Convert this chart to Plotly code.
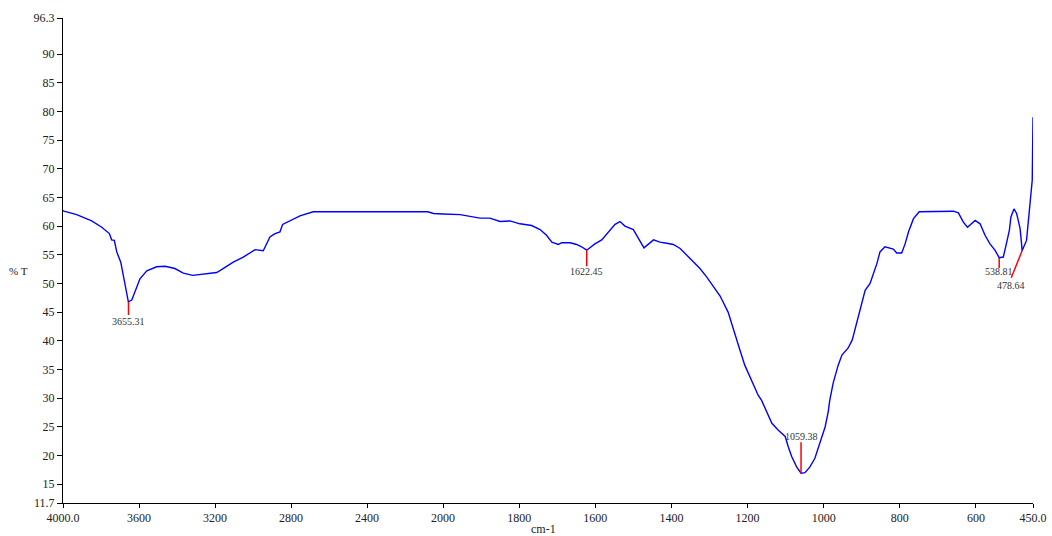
import plotly.graph_objects as go

# ---- data (wavenumber cm-1, %T) ----
wn_high = [4000, 3995, 3928, 3849, 3796, 3756, 3744, 3730, 3717, 3696, 3656, 3638,
           3595, 3559, 3507, 3463, 3411, 3367, 3317, 3262, 3191, 3147, 3104, 3051,
           2989, 2946, 2911, 2884, 2858, 2844, 2805, 2753, 2683, 2600, 2437, 2300,
           2150, 2080, 2050, 2000]
t_high = [62.7, 62.6, 62.0, 60.9, 59.8, 58.7, 57.6, 57.5, 55.5, 53.7, 46.8, 47.1,
          50.8, 52.2, 52.9, 53.0, 52.6, 51.8, 51.4, 51.6, 51.9, 52.8, 53.7, 54.6,
          55.9, 55.7, 58.1, 58.7, 59.0, 60.3, 61.0, 61.8, 62.5, 62.5, 62.5, 62.5,
          62.5, 62.5, 62.2, 62.1]

wn_low = [2000, 1955, 1903, 1877, 1850, 1824, 1798, 1767, 1745, 1728, 1714, 1697,
          1688, 1666, 1649, 1636, 1622.45, 1601, 1583, 1566, 1548, 1535, 1522, 1500,
          1487, 1472, 1447, 1430, 1412, 1395, 1377, 1351, 1325, 1307, 1285, 1272,
          1251, 1233, 1220, 1207, 1189, 1172, 1163, 1150, 1136, 1119, 1101, 1093,
          1084, 1071, 1059.38, 1049, 1036, 1023, 1011, 996, 988, 984, 975, 962,
          952, 936, 925, 910, 899, 891, 878, 869, 860, 852, 839, 817, 808, 795,
          786, 777, 764, 749, 700, 669, 659, 646, 633, 622, 602, 589, 576, 563,
          550, 538.81, 528, 519, 512, 508, 500, 493, 484, 480, 478.64, 467, 459,
          452, 450]
t_low = [62.1, 62.0, 61.4, 61.4, 60.8, 60.9, 60.4, 60.1, 59.4, 58.4, 57.2, 56.8,
         57.1, 57.1, 56.8, 56.4, 55.8, 56.9, 57.6, 59.0, 60.3, 60.8, 60.0, 59.4,
         57.8, 56.2, 57.6, 57.2, 57.0, 56.8, 56.1, 54.3, 52.6, 51.1, 49.1, 47.8,
         45.0, 41.0, 38.4, 35.7, 33.1, 30.5, 29.6, 27.6, 25.6, 24.4, 23.3, 21.5,
         19.8, 18.0, 16.9, 17.0, 18.0, 19.5, 21.8, 25.0, 27.6, 29.6, 32.6, 35.7,
         37.5, 38.7, 40.1, 43.9, 47.1, 48.8, 50.0, 51.7, 53.5, 55.5, 56.4, 56.0,
         55.3, 55.3, 56.9, 59.0, 61.3, 62.5, 62.5, 62.5, 62.6, 62.3, 60.7, 59.8,
         61.0, 60.4, 58.4, 56.9, 55.8, 54.5, 54.6, 57.2, 59.3, 61.6, 63.0, 62.2,
         59.6, 56.9, 55.7, 57.5, 63.3, 68.0, 79.0]

peak_wn = [3655.31, 1622.45, 1059.38, 538.81, 478.64]
peak_t = [46.8, 55.8, 16.9, 54.5, 55.7]
peak_labels = ["3655.31", "1622.45", "1059.38", "538.81", "478.64"]

x_ticks_high = [4000, 3600, 3200, 2800, 2400]
x_ticks_low = [2000, 1800, 1600, 1400, 1200, 1000, 800, 600, 450]
y_ticks = [11.7, 15, 20, 25, 30, 35, 40, 45, 50, 55, 60, 65, 70, 75, 80, 85, 90, 96.3]

# ---- figure ----
W, H = 1052, 536
L, R, T, B = 63, 19, 18, 33
split = 380 / (W - L - R)

FONT = "Liberation Serif"
line_style = dict(color="#0000ff", width=1.4)

fig = go.Figure()
fig.add_trace(go.Scatter(x=wn_high, y=t_high, mode="lines", line=line_style,
                         xaxis="x", yaxis="y", hoverinfo="skip", showlegend=False))
fig.add_trace(go.Scatter(x=wn_low, y=t_low, mode="lines", line=line_style,
                         xaxis="x2", yaxis="y", hoverinfo="skip", showlegend=False))

def fmt_tick(v, last):
    return f"{v:.1f}" if last else str(v)

axis_common = dict(showgrid=False, zeroline=False, showline=True, linecolor="black",
                   linewidth=1, ticks="outside", ticklen=4, tickcolor="black",
                   automargin=False,
                   tickfont=dict(family=FONT, size=12, color="#222"))

fig.update_layout(
    width=W, height=H,
    margin=dict(l=L, r=R, t=T, b=B, autoexpand=False),
    paper_bgcolor="white", plot_bgcolor="white",
    xaxis=dict(domain=[0, split], range=[4000, 2000], tickmode="array",
               tickvals=x_ticks_high,
               ticktext=[fmt_tick(v, v == 4000) for v in x_ticks_high],
               anchor="y", **axis_common),
    xaxis2=dict(domain=[split, 1], range=[2000, 450], tickmode="array",
                tickvals=x_ticks_low,
                ticktext=[fmt_tick(v, v == 450) for v in x_ticks_low],
                anchor="y", **axis_common),
    yaxis=dict(range=[11.7, 96.3], tickmode="array", tickvals=y_ticks,
               ticktext=[str(v) for v in y_ticks], showgrid=False, zeroline=False,
               showline=True, linecolor="black", linewidth=1, ticks="outside",
               ticklen=5, tickcolor="black", automargin=False,
               tickfont=dict(family=FONT, size=12, color="#222")),
)

# peak markers: (line end offset in %T, label offset in %T, optional label x shift in cm-1)
marker_style = {
    "3655.31": dict(end=-2.3, lab=-3.4, dx=0),
    "1622.45": dict(end=-2.8, lab=-3.8, dx=0),
    "1059.38": dict(end=5.4, lab=6.4, dx=0),
    "538.81": dict(end=-1.8, lab=-2.5, dx=0),
    "478.64": dict(end=-4.7, lab=-6.0, dx=30),
}
for w, t, lab in zip(peak_wn, peak_t, peak_labels):
    st = marker_style[lab]
    xr = "x" if w > 2000 else "x2"
    x_end = w + st["dx"] * 0.95
    fig.add_shape(type="line", xref=xr, yref="y", x0=w, y0=t, x1=x_end,
                  y1=t + st["end"], line=dict(color="red", width=1.5))
    fig.add_annotation(x=w + st["dx"], y=t + st["lab"], xref=xr, yref="y",
                       text=lab, showarrow=False,
                       font=dict(family=FONT, size=10, color="#333"),
                       xanchor="center", yanchor="middle")

fig.add_annotation(x=(18 - L) / (W - L - R), y=(H - B - 271) / (H - T - B),
                   xref="paper", yref="paper", text="% T", showarrow=False,
                   font=dict(family=FONT, size=11, color="#222"),
                   xanchor="center", yanchor="middle")
fig.add_annotation(x=(543 - L) / (W - L - R), y=(H - B - 529) / (H - T - B),
                   xref="paper", yref="paper", text="cm-1", showarrow=False,
                   font=dict(family=FONT, size=12, color="#222"),
                   xanchor="center", yanchor="middle")

fig.write_html(
    "out.html",
    config={"displayModeBar": False},
    post_script="document.body.style.margin='0';document.body.style.overflow='hidden';",
)
